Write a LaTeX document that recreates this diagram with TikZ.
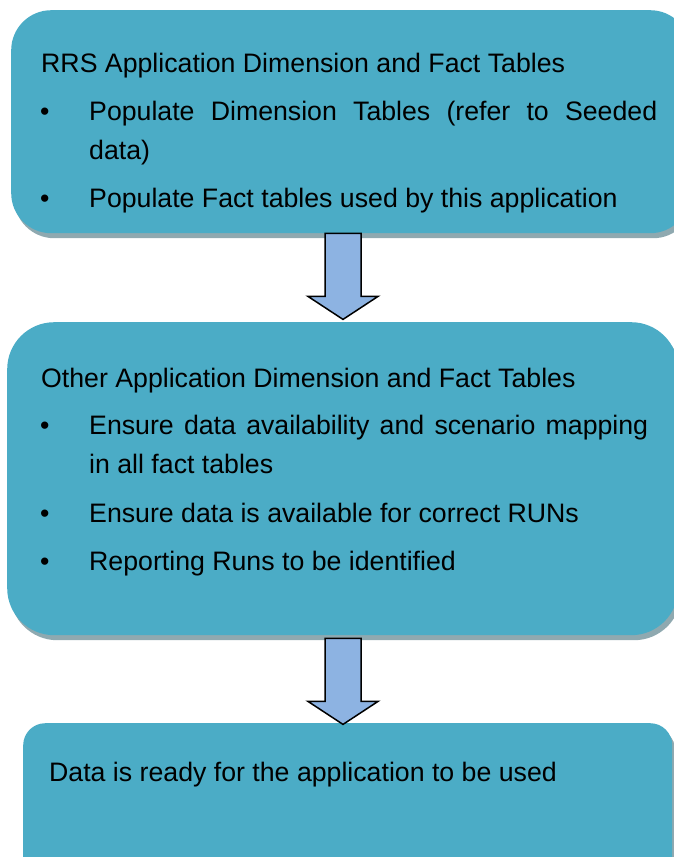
\documentclass[tikz,border=0pt]{standalone}
\usepackage{fontspec}
\setmainfont{Liberation Sans}
\usetikzlibrary{calc,shadows}
\definecolor{boxblue}{HTML}{4BACC6}
\definecolor{shadowgrey}{HTML}{8FA9B0}
\definecolor{arrowblue}{HTML}{8DB3E2}
\tikzset{
  stagebox/.style={fill=boxblue, anchor=north west, inner sep=0pt,
    drop shadow={shadow xshift=3pt, shadow yshift=-5pt, fill=shadowgrey, opacity=1}},
  boxtext/.style={anchor=base west, inner sep=0pt, font=\fontsize{26.7}{39}\selectfont},
  itemtext/.style={boxtext, text width=#1, align=justify},
  blockarrow/.style={fill=arrowblue, draw=black, line width=1.5pt, line join=miter}
}
\newcommand{\downblock}[1]{%
  \draw[blockarrow] (#1) ++(-18,0) -- ++(36,0) -- ++(0,63) -- ++(17,0)
    -- ++(-35,23) -- ++(-35,-23) -- ++(17,0) -- cycle;}

\begin{document}
\begin{tikzpicture}[x=1pt,y=-1pt]
  \useasboundingbox (0,0) rectangle (674,857);
  \clip (0,0) rectangle (674,857);
  % boxes
  \node[stagebox, rounded corners=40pt, minimum width=679pt, minimum height=223pt] (rrs) at (11,10) {};
  \node[stagebox, rounded corners=47pt, minimum width=671pt, minimum height=313pt] (other) at (7,322) {};
  \node[stagebox, rounded corners=22pt, minimum width=649pt, minimum height=180pt] (ready) at (23,723) {};
  % arrows
  \coordinate (a1) at (343,0 |- rrs.south);
  \coordinate (a2) at ($(343,0 |- other.south)+(0,3)$);
  \downblock{a1}
  \downblock{a2}
  % first box
  \node[boxtext] (rrstitle) at (41,72) {RRS Application Dimension and Fact Tables};
  \node[boxtext] (rrsdota) at (40,120) {•};
  \node[itemtext=568pt] (rrsitema) at (89,120) {Populate Dimension Tables (refer to Seeded\linebreak data)};
  \node[boxtext] (rrsdotb) at (40,207) {•};
  \node[boxtext] (rrsitemb) at (89,207) {Populate Fact tables used by this application};
  % second box
  \node[boxtext] (othertitle) at (41,387) {Other Application Dimension and Fact Tables};
  \node[boxtext] (otherdota) at (40,434) {•};
  \node[itemtext=559pt] (otheritema) at (89,434) {Ensure data availability and scenario mapping\linebreak in all fact tables};
  \node[boxtext] (otherdotb) at (40,522) {•};
  \node[boxtext] (otheritemb) at (89,522) {Ensure data is available for correct RUNs};
  \node[boxtext] (otherdotc) at (40,570) {•};
  \node[boxtext] (otheritemc) at (89,570) {Reporting Runs to be identified};
  % last box
  \node[boxtext] (readytext) at (49,781) {Data is ready for the application to be used};
\end{tikzpicture}
\end{document}
